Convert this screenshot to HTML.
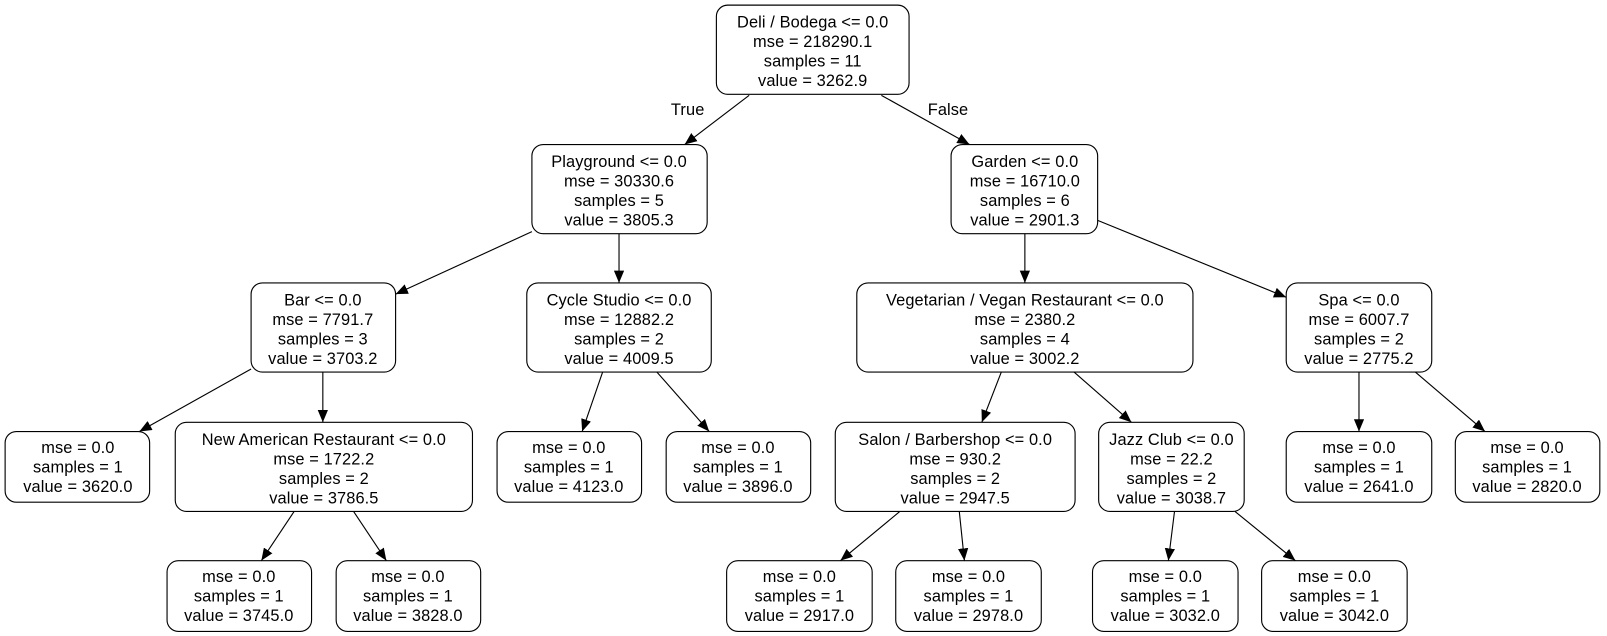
<!DOCTYPE html>
<html><head><style>html,body{margin:0;padding:0;background:#fff}svg{display:block}</style></head>
<body>
<svg width="1607" height="636" viewBox="0 0 1568 620.5" preserveAspectRatio="none" xmlns="http://www.w3.org/2000/svg" font-family="Liberation Sans, sans-serif" font-size="16" letter-spacing="0.1" text-anchor="middle">
<defs><marker id="a" markerUnits="userSpaceOnUse" markerWidth="12" markerHeight="10" refX="12" refY="5" orient="auto"><path d="M0,0 L12,5 L0,10 z" fill="#000"/></marker></defs>
<g stroke="#000" stroke-width="1.1" fill="none" marker-end="url(#a)">
<line x1="731" y1="93" x2="668" y2="141"/>
<line x1="860" y1="93" x2="946" y2="141"/>
<line x1="519" y1="226" x2="386" y2="287"/>
<line x1="604" y1="228" x2="604" y2="276"/>
<line x1="1000" y1="228" x2="1000" y2="276"/>
<line x1="1071" y1="215" x2="1255" y2="290"/>
<line x1="245" y1="360" x2="136" y2="421"/>
<line x1="315" y1="363" x2="315" y2="412"/>
<line x1="588" y1="363" x2="568" y2="421"/>
<line x1="641" y1="363" x2="692" y2="421"/>
<line x1="977" y1="363" x2="958" y2="412"/>
<line x1="1048" y1="363" x2="1104" y2="412"/>
<line x1="1326" y1="363" x2="1326" y2="421"/>
<line x1="1381" y1="363" x2="1449" y2="421"/>
<line x1="287" y1="499" x2="255" y2="547"/>
<line x1="345" y1="499" x2="377" y2="547"/>
<line x1="878" y1="499" x2="820" y2="547"/>
<line x1="936" y1="499" x2="941" y2="547"/>
<line x1="1146" y1="499" x2="1140" y2="547"/>
<line x1="1205" y1="499" x2="1264" y2="547"/>
</g>
<text x="671" y="112">True</text>
<text x="925" y="112">False</text>
<g stroke="#000" stroke-width="1.1" fill="#fff">
<rect x="699" y="5" width="188" height="87" rx="11"/>
<rect x="519" y="141" width="171" height="87" rx="11"/>
<rect x="928" y="141" width="143" height="87" rx="11"/>
<rect x="245" y="276" width="141" height="87" rx="11"/>
<rect x="514" y="276" width="180" height="87" rx="11"/>
<rect x="836" y="276" width="328" height="87" rx="11"/>
<rect x="1255" y="276" width="142" height="87" rx="11"/>
<rect x="5" y="421" width="141" height="69" rx="11"/>
<rect x="171" y="412" width="290" height="87" rx="11"/>
<rect x="485" y="421" width="141" height="69" rx="11"/>
<rect x="650" y="421" width="141" height="69" rx="11"/>
<rect x="815" y="412" width="234" height="87" rx="11"/>
<rect x="1072" y="412" width="142" height="87" rx="11"/>
<rect x="1255" y="421" width="142" height="69" rx="11"/>
<rect x="1420" y="421" width="141" height="69" rx="11"/>
<rect x="163" y="547" width="141" height="69" rx="11"/>
<rect x="328" y="547" width="141" height="69" rx="11"/>
<rect x="709" y="547" width="142" height="69" rx="11"/>
<rect x="874" y="547" width="142" height="69" rx="11"/>
<rect x="1066" y="547" width="142" height="69" rx="11"/>
<rect x="1231" y="547" width="142" height="69" rx="11"/>
</g>
<g fill="#000">
<text x="793" y="27">Deli / Bodega &lt;= 0.0</text><text x="793" y="46">mse = 218290.1</text><text x="793" y="65">samples = 11</text><text x="793" y="84">value = 3262.9</text>
<text x="604" y="163">Playground &lt;= 0.0</text><text x="604" y="182">mse = 30330.6</text><text x="604" y="201">samples = 5</text><text x="604" y="220">value = 3805.3</text>
<text x="1000" y="163">Garden &lt;= 0.0</text><text x="1000" y="182">mse = 16710.0</text><text x="1000" y="201">samples = 6</text><text x="1000" y="220">value = 2901.3</text>
<text x="315" y="298">Bar &lt;= 0.0</text><text x="315" y="317">mse = 7791.7</text><text x="315" y="336">samples = 3</text><text x="315" y="355">value = 3703.2</text>
<text x="604" y="298">Cycle Studio &lt;= 0.0</text><text x="604" y="317">mse = 12882.2</text><text x="604" y="336">samples = 2</text><text x="604" y="355">value = 4009.5</text>
<text x="1000" y="298">Vegetarian / Vegan Restaurant &lt;= 0.0</text><text x="1000" y="317">mse = 2380.2</text><text x="1000" y="336">samples = 4</text><text x="1000" y="355">value = 3002.2</text>
<text x="1326" y="298">Spa &lt;= 0.0</text><text x="1326" y="317">mse = 6007.7</text><text x="1326" y="336">samples = 2</text><text x="1326" y="355">value = 2775.2</text>
<text x="76" y="442">mse = 0.0</text><text x="76" y="461">samples = 1</text><text x="76" y="480">value = 3620.0</text>
<text x="316" y="434">New American Restaurant &lt;= 0.0</text><text x="316" y="453">mse = 1722.2</text><text x="316" y="472">samples = 2</text><text x="316" y="491">value = 3786.5</text>
<text x="555" y="442">mse = 0.0</text><text x="555" y="461">samples = 1</text><text x="555" y="480">value = 4123.0</text>
<text x="720" y="442">mse = 0.0</text><text x="720" y="461">samples = 1</text><text x="720" y="480">value = 3896.0</text>
<text x="932" y="434">Salon / Barbershop &lt;= 0.0</text><text x="932" y="453">mse = 930.2</text><text x="932" y="472">samples = 2</text><text x="932" y="491">value = 2947.5</text>
<text x="1143" y="434">Jazz Club &lt;= 0.0</text><text x="1143" y="453">mse = 22.2</text><text x="1143" y="472">samples = 2</text><text x="1143" y="491">value = 3038.7</text>
<text x="1326" y="442">mse = 0.0</text><text x="1326" y="461">samples = 1</text><text x="1326" y="480">value = 2641.0</text>
<text x="1490" y="442">mse = 0.0</text><text x="1490" y="461">samples = 1</text><text x="1490" y="480">value = 2820.0</text>
<text x="233" y="568">mse = 0.0</text><text x="233" y="587">samples = 1</text><text x="233" y="606">value = 3745.0</text>
<text x="398" y="568">mse = 0.0</text><text x="398" y="587">samples = 1</text><text x="398" y="606">value = 3828.0</text>
<text x="780" y="568">mse = 0.0</text><text x="780" y="587">samples = 1</text><text x="780" y="606">value = 2917.0</text>
<text x="945" y="568">mse = 0.0</text><text x="945" y="587">samples = 1</text><text x="945" y="606">value = 2978.0</text>
<text x="1137" y="568">mse = 0.0</text><text x="1137" y="587">samples = 1</text><text x="1137" y="606">value = 3032.0</text>
<text x="1302" y="568">mse = 0.0</text><text x="1302" y="587">samples = 1</text><text x="1302" y="606">value = 3042.0</text>
</g>
</svg>
</body></html>
